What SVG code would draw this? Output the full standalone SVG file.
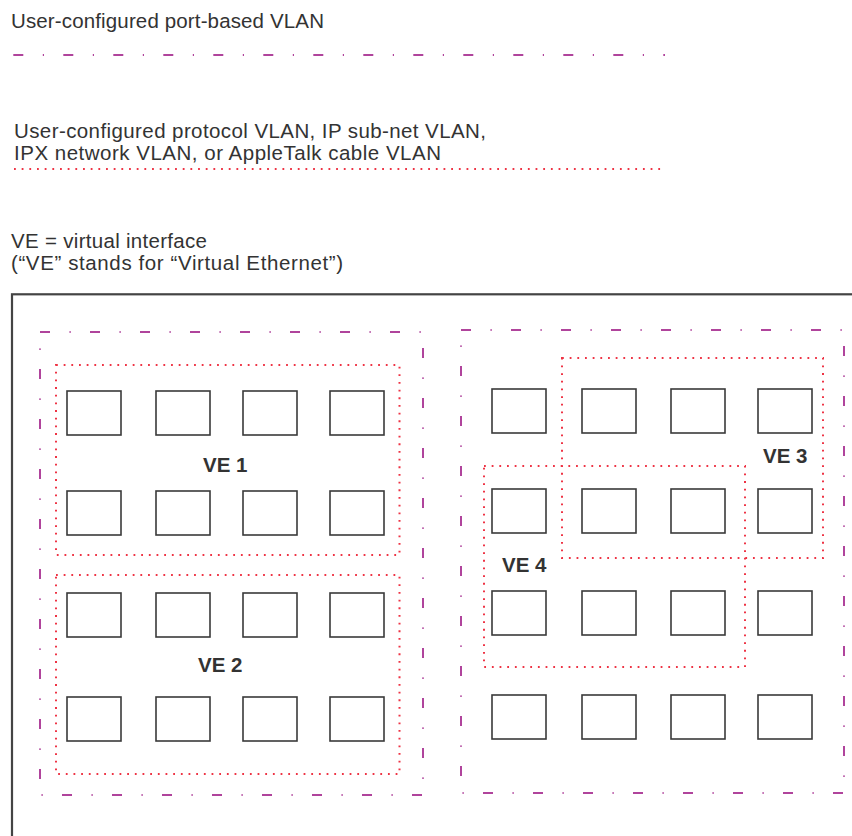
<svg xmlns="http://www.w3.org/2000/svg" width="852" height="836" viewBox="0 0 852 836">
<style>
  .t { font-family: "Liberation Sans", Arial, Helvetica, sans-serif; font-size: 20.5px; fill: #333; }
  .ve { font-family: "Liberation Sans", Arial, Helvetica, sans-serif; font-size: 20.5px; font-weight: bold; fill: #333; }
  .dd { fill: none; stroke: #b0449c; stroke-width: 2; stroke-dasharray: 10 19.5 1.2 19.3; }
  .dot { fill: none; stroke: #ee3344; stroke-width: 2; stroke-dasharray: 1.8 5.87; }
  .port { fill: #fff; stroke: #3a3a3a; stroke-width: 1.6; }
  .frame { fill: none; stroke: #444; stroke-width: 2.2; }
</style>
<rect width="852" height="836" fill="#fff"/>

<g id="legend">
  <text class="t" x="11" y="28" textLength="313" lengthAdjust="spacing">User-configured port-based VLAN</text>
  <line class="dd" x1="13.3" y1="55" x2="665" y2="55"/>
  <text class="t" x="14" y="138" textLength="472" lengthAdjust="spacing">User-configured protocol VLAN, IP sub-net VLAN,</text>
  <text class="t" x="14" y="160" textLength="427" lengthAdjust="spacing">IPX network VLAN, or AppleTalk cable VLAN</text>
  <line class="dot" x1="14" y1="169" x2="663" y2="169"/>
  <text class="t" x="11" y="248" textLength="196" lengthAdjust="spacing">VE = virtual interface</text>
  <text class="t" x="11" y="270" textLength="332" lengthAdjust="spacing">(“VE” stands for “Virtual Ethernet”)</text>
</g>

<g id="switch">
  <rect class="frame" x="12" y="294.3" width="870" height="600"/>
</g>

<g id="connectors">
  <!-- port-based VLAN left -->
  <line class="dd" x1="40" y1="332" x2="423" y2="332"/>
  <line class="dd" x1="40" y1="332" x2="40" y2="795" style="stroke-dashoffset:13"/>
  <line class="dd" x1="423" y1="332" x2="423" y2="795" style="stroke-dashoffset:34"/>
  <line class="dd" x1="40" y1="795" x2="423" y2="795" style="stroke-dashoffset:28"/>
  <!-- port-based VLAN right -->
  <line class="dd" x1="461" y1="330" x2="844" y2="330"/>
  <line class="dd" x1="461" y1="330" x2="461" y2="793" style="stroke-dashoffset:14"/>
  <line class="dd" x1="844" y1="330" x2="844" y2="793" style="stroke-dashoffset:34"/>
  <line class="dd" x1="461" y1="793" x2="844" y2="793" style="stroke-dashoffset:28"/>
</g>

<g id="ve1">
  <rect class="dot" x="56" y="365" width="343.5" height="190"/>
  <text class="ve" x="203" y="472">VE 1</text>
</g>
<g id="ve2">
  <rect class="dot" x="56" y="575" width="343.5" height="199"/>
  <text class="ve" x="198" y="672">VE 2</text>
</g>
<g id="ve3">
  <rect class="dot" x="562" y="358" width="261" height="200"/>
  <text class="ve" x="763" y="463">VE 3</text>
</g>
<g id="ve4">
  <rect class="dot" x="484" y="466" width="261" height="201"/>
  <text class="ve" x="502" y="572">VE 4</text>
</g>

<g id="ports-left">
  <rect class="port" x="67" y="391" width="54" height="44"/>
  <rect class="port" x="156" y="391" width="54" height="44"/>
  <rect class="port" x="243" y="391" width="54" height="44"/>
  <rect class="port" x="330" y="391" width="54" height="44"/>
  <rect class="port" x="67" y="491" width="54" height="44"/>
  <rect class="port" x="156" y="491" width="54" height="44"/>
  <rect class="port" x="243" y="491" width="54" height="44"/>
  <rect class="port" x="330" y="491" width="54" height="44"/>
  <rect class="port" x="67" y="593" width="54" height="44"/>
  <rect class="port" x="156" y="593" width="54" height="44"/>
  <rect class="port" x="243" y="593" width="54" height="44"/>
  <rect class="port" x="330" y="593" width="54" height="44"/>
  <rect class="port" x="67" y="697" width="54" height="44"/>
  <rect class="port" x="156" y="697" width="54" height="44"/>
  <rect class="port" x="243" y="697" width="54" height="44"/>
  <rect class="port" x="330" y="697" width="54" height="44"/>
</g>

<g id="ports-right">
  <rect class="port" x="492" y="389" width="54" height="44"/>
  <rect class="port" x="582" y="389" width="54" height="44"/>
  <rect class="port" x="671" y="389" width="54" height="44"/>
  <rect class="port" x="758" y="389" width="54" height="44"/>
  <rect class="port" x="492" y="489" width="54" height="44"/>
  <rect class="port" x="582" y="489" width="54" height="44"/>
  <rect class="port" x="671" y="489" width="54" height="44"/>
  <rect class="port" x="758" y="489" width="54" height="44"/>
  <rect class="port" x="492" y="591" width="54" height="44"/>
  <rect class="port" x="582" y="591" width="54" height="44"/>
  <rect class="port" x="671" y="591" width="54" height="44"/>
  <rect class="port" x="758" y="591" width="54" height="44"/>
  <rect class="port" x="492" y="695" width="54" height="44"/>
  <rect class="port" x="582" y="695" width="54" height="44"/>
  <rect class="port" x="671" y="695" width="54" height="44"/>
  <rect class="port" x="758" y="695" width="54" height="44"/>
</g>
</svg>
